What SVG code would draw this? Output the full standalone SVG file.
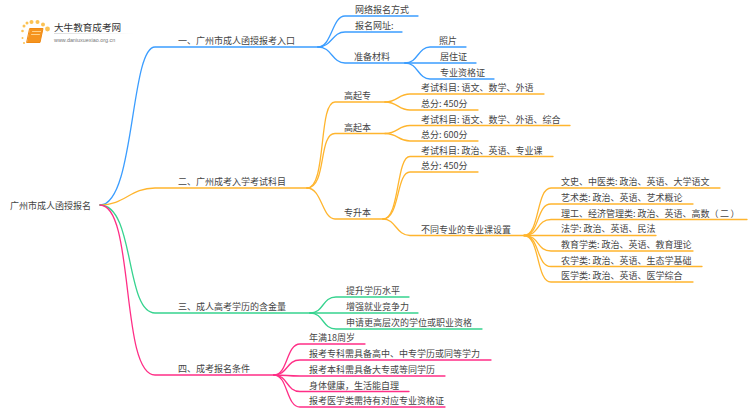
<svg xmlns="http://www.w3.org/2000/svg" width="750" height="410" viewBox="0 0 750 410">
<style>
text{font-family:"Noto Sans CJK SC","Noto Sans",sans-serif;font-size:9px;fill:#444}
path{fill:none;stroke-width:1.3;stroke-linecap:round}
.b path{stroke:#3b9dff}.o path{stroke:#ffb52e}.g path{stroke:#36d38f}.p path{stroke:#ff2e86}
</style>
<defs><linearGradient id="fade"><stop offset="0" stop-color="#ddd"/><stop offset="1" stop-color="#fff"/></linearGradient></defs>
<rect width="750" height="410" fill="#fff"/>
<g id="logo">
<g fill="#fbc254"><circle cx="22.500" cy="31" r="1.300"/><circle cx="24" cy="26" r="1.500"/><circle cx="27" cy="23" r="1.500"/><circle cx="31.500" cy="22" r="2"/><circle cx="37.500" cy="22" r="2"/><circle cx="43" cy="24.500" r="2"/><circle cx="47.500" cy="29" r="2.400"/><circle cx="22.500" cy="38" r="1"/><circle cx="24" cy="43" r="1"/></g>
<path d="M30 28.500H43L40 42.500H27Z" style="fill:#f5941f;stroke:#f08a14;stroke-width:1;stroke-linejoin:round"/>
<path d="M32.500 31.500H40.500M31.500 34.500H39.500" style="stroke:#ffd28a;stroke-width:1"/>
<text x="54" y="31" style="font-size:9.6px;fill:#333">大牛教育成考网</text>
<rect x="54" y="33" width="80" height="1" fill="url(#fade)"/>
<text x="54" y="41.500" style="font-size:5.400px;fill:#777;font-family:'Liberation Sans',sans-serif">www.daniuxuexiao.org.cn</text>
</g>
<g id="connectors">
<g class="b">
<path d="M100 205C135 205 130 47 155 47H318"/>
<path d="M318 47C332 47 332 16 345 16H418"/>
<path d="M318 47C332 47 332 32 345 32H402"/>
<path d="M318 47C332 47 332 63 345 63H405"/>
<path d="M405 63C418 63 418 47 430 47H466"/>
<path d="M405 63H476"/>
<path d="M405 63C418 63 418 79 430 79H494"/>
</g>
<g class="o">
<path d="M100 205C125 205 130 188 155 188H307"/>
<path d="M307 188C327 188 318 102 335 102H385"/>
<path d="M307 188C327 188 318 133.500 335 133.500H385"/>
<path d="M307 188C322 188 322 219 335 219H383"/>
<path d="M385 102C398 102 398 94 410 94H544"/>
<path d="M385 102C398 102 398 110 410 110H478"/>
<path d="M385 133.500C398 133.500 398 125.500 410 125.500H570"/>
<path d="M385 133.500C398 133.500 398 141 410 141H478"/>
<path d="M383 219C400 219 396 156.500 410 156.500H553"/>
<path d="M383 219C400 219 396 172 410 172H478"/>
<path d="M383 219C396 219 396 235.500 410 235.500H524"/>
<path d="M524 235.500C540 235.500 536 188 551 188H720"/>
<path d="M524 235.500C540 235.500 536 204 551 204H693"/>
<path d="M524 235.500C540 235.500 536 219.500 551 219.500H747"/>
<path d="M524 235.500H656"/>
<path d="M524 235.500C540 235.500 536 251 551 251H693"/>
<path d="M524 235.500C540 235.500 536 266.500 551 266.500H702"/>
<path d="M524 235.500C540 235.500 536 282 551 282H693"/>
</g>
<g class="g">
<path d="M100 205C135 205 125 313 155 313H310"/>
<path d="M310 313C324 313 322 297 336 297H409"/>
<path d="M310 313H418"/>
<path d="M310 313C324 313 322 329 336 329H482"/>
</g>
<g class="p">
<path d="M100 205C135 205 120 375 155 375H274"/>
<path d="M274 375C288 375 286 344 300 344H365"/>
<path d="M274 375C288 375 286 360 300 360H491"/>
<path d="M274 375C288 375 286 376 300 376H445"/>
<path d="M274 375C288 375 286 391.500 300 391.500H409"/>
<path d="M274 375C288 375 286 407 300 407H445"/>
</g>
</g>
<g id="root"><text x="10" y="208.500">广州市成人函授报名</text></g>
<g id="n1"><text x="178" y="44">一、广州市成人函授报考入口</text></g>
<g id="n1a"><text x="355" y="13">网络报名方式</text></g>
<g id="n1b"><text x="355" y="29">报名网址:</text></g>
<g id="n1c"><text x="354" y="60">准备材料</text></g>
<g id="n1c1"><text x="439" y="44">照片</text></g>
<g id="n1c2"><text x="440" y="60">居住证</text></g>
<g id="n1c3"><text x="440" y="76">专业资格证</text></g>
<g id="n2"><text x="178" y="185">二、广州成考入学考试科目</text></g>
<g id="n2a"><text x="344" y="99">高起专</text></g>
<g id="n2a1"><text x="421" y="91">考试科目: 语文、数学、外语</text></g>
<g id="n2a2"><text x="421" y="107">总分: 450分</text></g>
<g id="n2b"><text x="344" y="130.500">高起本</text></g>
<g id="n2b1"><text x="421" y="122.500">考试科目: 语文、数学、外语、综合</text></g>
<g id="n2b2"><text x="421" y="138">总分: 600分</text></g>
<g id="n2c"><text x="344" y="216">专升本</text></g>
<g id="n2c1"><text x="421" y="153.500">考试科目: 政治、英语、专业课</text></g>
<g id="n2c2"><text x="421" y="169">总分: 450分</text></g>
<g id="n2c3"><text x="421" y="232.500">不同专业的专业课设置</text></g>
<g id="m1"><text x="561" y="185">文史、中医类: 政治、英语、大学语文</text></g>
<g id="m2"><text x="561" y="201">艺术类: 政治、英语、艺术概论</text></g>
<g id="m3"><text x="561" y="216.500">理工、经济管理类: 政治、英语、高数（<tspan dx="1.500">二</tspan><tspan dx="1.500">）</tspan></text></g>
<g id="m4"><text x="561" y="232">法学: 政治、英语、民法</text></g>
<g id="m5"><text x="561" y="248">教育学类: 政治、英语、教育理论</text></g>
<g id="m6"><text x="561" y="263.500">农学类: 政治、英语、生态学基础</text></g>
<g id="m7"><text x="561" y="279">医学类: 政治、英语、医学综合</text></g>
<g id="n3"><text x="178" y="310">三、成人高考学历的含金量</text></g>
<g id="n3a"><text x="346" y="294">提升学历水平</text></g>
<g id="n3b"><text x="346" y="310">增强就业竞争力</text></g>
<g id="n3c"><text x="346" y="326">申请更高层次的学位或职业资格</text></g>
<g id="n4"><text x="178" y="372">四、成考报名条件</text></g>
<g id="n4a"><text x="309" y="341">年满18周岁</text></g>
<g id="n4b"><text x="309" y="357">报考专科需具备高中、中专学历或同等学力</text></g>
<g id="n4c"><text x="309" y="373">报考本科需具备大专或等同学历</text></g>
<g id="n4d"><text x="309" y="388.500">身体健康，生活能自理</text></g>
<g id="n4e"><text x="309" y="404">报考医学类需持有对应专业资格证</text></g>
</svg>
